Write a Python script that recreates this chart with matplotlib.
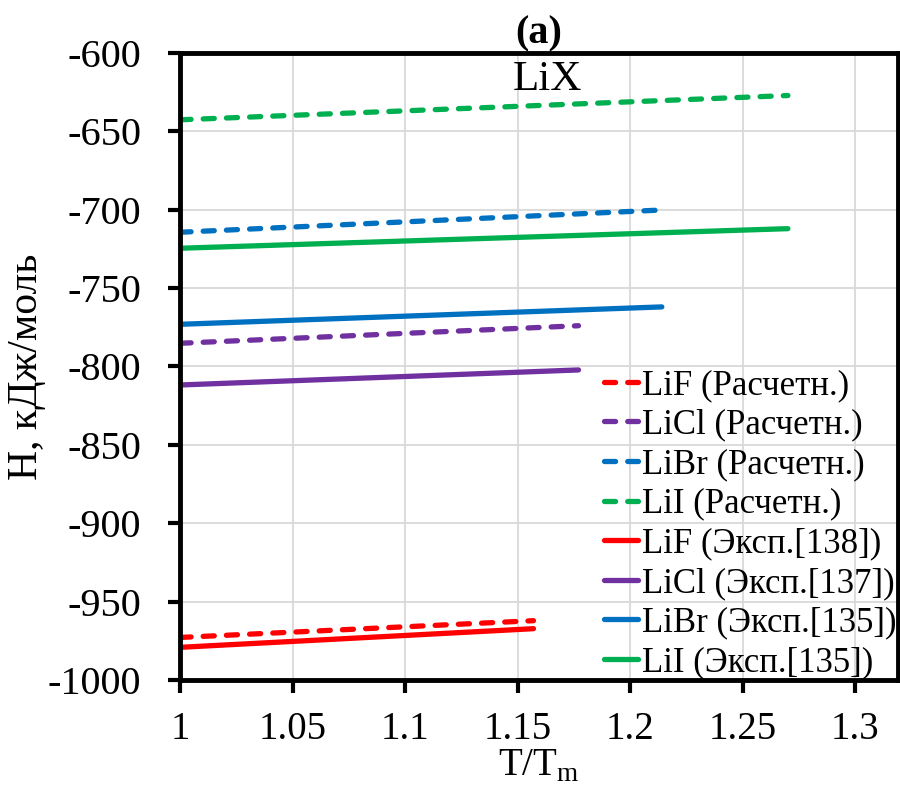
import matplotlib.pyplot as plt

plt.rcParams['font.family'] = ['Liberation Serif', 'DejaVu Serif']
plt.rcParams['mathtext.fontset'] = 'custom'
plt.rcParams['mathtext.rm'] = 'Liberation Serif'
plt.rcParams['axes.unicode_minus'] = False

# data
compounds = ['LiF', 'LiCl', 'LiBr', 'LiI']
exp_refs = ['138', '137', '135', '135']
colors = ['#FF0000', '#7030A0', '#0070C0', '#00B050']
t_start = [1.0, 1.0, 1.0, 1.0]
t_end = [1.157, 1.177, 1.214, 1.270]
h_calc_start = [-972.8, -785.2, -714.4, -642.7]
h_calc_end = [-962.1, -774.0, -700.2, -627.2]
h_exp_start = [-979.1, -811.8, -773.1, -724.6]
h_exp_end = [-967.2, -802.2, -762.0, -712.1]
x_ticks = [1, 1.05, 1.1, 1.15, 1.2, 1.25, 1.3]
x_labels = ['1', '1.05', '1.1', '1.15', '1.2', '1.25', '1.3']
y_ticks = list(range(-1000, -599, 50))

fig = plt.figure(figsize=(9, 7.89), dpi=100)
ax = fig.add_axes([0.2, 0.138, 0.798, 0.795])

lw = 3.8
for i, name in enumerate(compounds):
    ax.plot([t_start[i], t_end[i]], [h_calc_start[i], h_calc_end[i]], color=colors[i], lw=lw,
            linestyle=(0, (2.1, 2.3)), dash_capstyle='round', solid_capstyle='round',
            label=f'{name} (Расчетн.)')
for i, name in enumerate(compounds):
    ax.plot([t_start[i], t_end[i]], [h_exp_start[i], h_exp_end[i]], color=colors[i], lw=lw,
            solid_capstyle='round', label=f'{name} (Эксп.[{exp_refs[i]}])')

ax.set_xlim(1, 1.319)
ax.set_ylim(-1000, -600)
ax.set_xticks(x_ticks)
ax.set_xticklabels(x_labels)
ax.set_yticks(y_ticks)
ax.grid(True, color='#d9d9d9', linewidth=1.3)
ax.set_axisbelow(True)

for s in ax.spines.values():
    s.set_linewidth(3.5)
ax.tick_params(axis='both', direction='out', length=9, width=3)
ax.tick_params(axis='x', labelsize=28, pad=13)
ax.tick_params(axis='y', labelsize=29, pad=19)

ax.set_xlabel(r'T/T$_{\mathrm{m}}$', fontsize=28, labelpad=0)
ax.set_ylabel('Н, кДж/моль', fontsize=30, labelpad=1)
ax.set_title('(a)', fontsize=29, fontweight='bold', pad=4)
ax.text(1.163, -617, 'LiX', fontsize=31, ha='center', va='center')

ax.legend(loc='upper left', bbox_to_anchor=(0.59, 0.496), frameon=False, fontsize=25,
          handlelength=1.0, handletextpad=0.1, labelspacing=0.19, borderpad=0,
          borderaxespad=0)

fig.savefig('out.png', dpi=100)
